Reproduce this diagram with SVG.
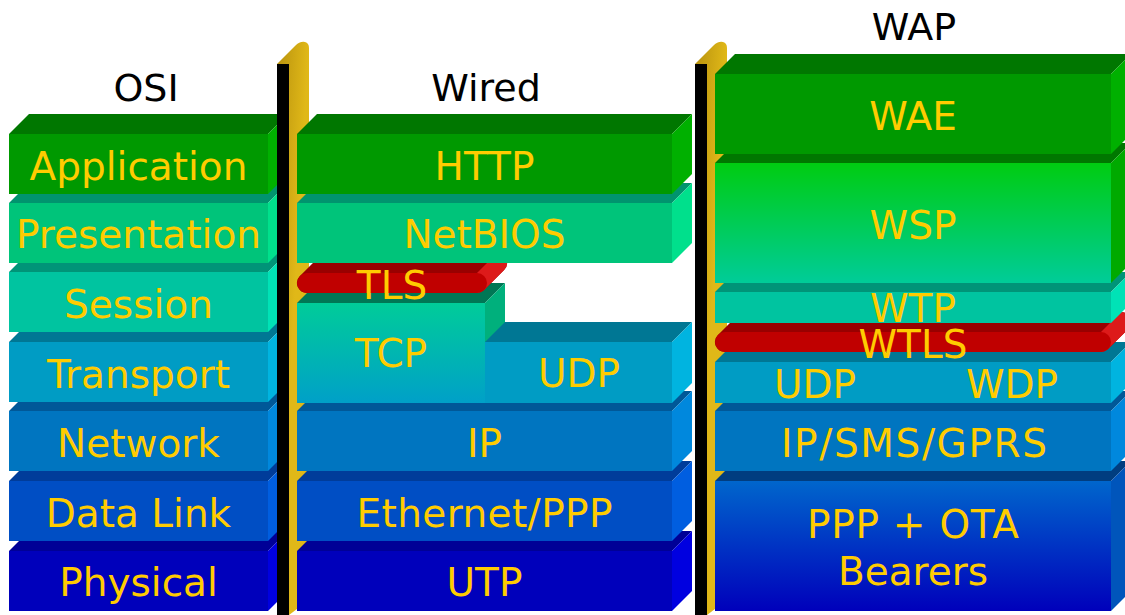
<svg xmlns="http://www.w3.org/2000/svg" width="1125" height="615" viewBox="0 0 1125 615">
<defs>
<linearGradient id="gTcp" x1="0" y1="0" x2="0" y2="1"><stop offset="0" stop-color="#00cc99"/><stop offset="1" stop-color="#00a0c8"/></linearGradient>
<linearGradient id="gWsp" x1="0" y1="0" x2="0" y2="1"><stop offset="0" stop-color="#00cc11"/><stop offset="1" stop-color="#00cc99"/></linearGradient>
<linearGradient id="gPpp" x1="0" y1="0" x2="0" y2="1"><stop offset="0" stop-color="#0066cc"/><stop offset="1" stop-color="#0000bb"/></linearGradient>
<linearGradient id="gGold" x1="0" y1="0" x2="1" y2="1"><stop offset="0" stop-color="#b8920e"/><stop offset="0.5" stop-color="#e0b818"/><stop offset="1" stop-color="#e0b818"/></linearGradient>
</defs>
<style>
text{font-family:"DejaVu Sans","Liberation Sans",sans-serif;text-anchor:middle}
.t{font-size:39px;fill:#ffcc00}
.h{font-size:38px;fill:#000000}
.f1{fill:#009900}.p1{fill:#007700}.s1{fill:#00b000}
.f2{fill:#00c47a}.p2{fill:#00946e}.s2{fill:#00e08c}
.f3{fill:#00c4a0}.p3{fill:#009478}.s3{fill:#00e2b6}
.f4{fill:#009cc4}.p4{fill:#007794}.s4{fill:#00b4e0}
.f5{fill:#0075c0}.p5{fill:#005898}.s5{fill:#0088dd}
.f6{fill:#004ec4}.p6{fill:#003c9a}.s6{fill:#005ee0}
.f7{fill:#0000bb}.p7{fill:#000096}.s7{fill:#0000e0}
.pole{fill:#000000}
.gold{fill:url(#gGold)}
.rf{fill:#c00000}.rt{fill:#990000}.rc{fill:#dd1a1a}
</style>

<g id="osi">
<text class="h" x="146" y="101">OSI</text>
<g id="osi-physical"><polygon class="p7" points="9,551 29,531 288,531 268,551"/><polygon class="s7" points="268,551 288,531 288,591 268,611"/><rect class="f7" x="9" y="551" width="259" height="60"/><text class="t" x="138.5" y="596">Physical</text></g>
<g id="osi-datalink"><polygon class="p6" points="9,481 29,461 288,461 268,481"/><polygon class="s6" points="268,481 288,461 288,521 268,541"/><rect class="f6" x="9" y="481" width="259" height="60"/><text class="t" x="138.5" y="527">Data Link</text></g>
<g id="osi-network"><polygon class="p5" points="9,411 29,391 288,391 268,411"/><polygon class="s5" points="268,411 288,391 288,451 268,471"/><rect class="f5" x="9" y="411" width="259" height="60"/><text class="t" x="138.5" y="457">Network</text></g>
<g id="osi-transport"><polygon class="p4" points="9,342 29,322 288,322 268,342"/><polygon class="s4" points="268,342 288,322 288,382 268,402"/><rect class="f4" x="9" y="342" width="259" height="60"/><text class="t" x="138.5" y="388">Transport</text></g>
<g id="osi-session"><polygon class="p3" points="9,272 29,252 288,252 268,272"/><polygon class="s3" points="268,272 288,252 288,312 268,332"/><rect class="f3" x="9" y="272" width="259" height="60"/><text class="t" x="138.5" y="318">Session</text></g>
<g id="osi-presentation"><polygon class="p2" points="9,203 29,183 288,183 268,203"/><polygon class="s2" points="268,203 288,183 288,243 268,263"/><rect class="f2" x="9" y="203" width="259" height="60"/><text class="t" x="138.5" y="248">Presentation</text></g>
<g id="osi-application"><polygon class="p1" points="9,134 29,114 288,114 268,134"/><polygon class="s1" points="268,134 288,114 288,174 268,194"/><rect class="f1" x="9" y="134" width="259" height="60"/><text class="t" x="138.5" y="180">Application</text></g>
</g>

<g id="divider-wired">
<path class="gold" d="M277,64 L295,46 Q300,41 305,42 Q309,43 309,48 L309,600 L289,615 L289,64 Z"/>
<rect class="pole" x="277" y="64" width="12" height="551"/>
</g>

<g id="wired">
<text class="h" x="486" y="101">Wired</text>
<g id="wired-utp"><polygon class="p7" points="297,551 317,531 692,531 672,551"/><polygon class="s7" points="672,551 692,531 692,591 672,611"/><rect class="f7" x="297" y="551" width="375" height="60"/><text class="t" x="484.5" y="596">UTP</text></g>
<g id="wired-ethernet"><polygon class="p6" points="297,481 317,461 692,461 672,481"/><polygon class="s6" points="672,481 692,461 692,521 672,541"/><rect class="f6" x="297" y="481" width="375" height="60"/><text class="t" x="484.5" y="527" textLength="256" lengthAdjust="spacing">Ethernet/PPP</text></g>
<g id="wired-ip"><polygon class="p5" points="297,411 317,391 692,391 672,411"/><polygon class="s5" points="672,411 692,391 692,451 672,471"/><rect class="f5" x="297" y="411" width="375" height="60"/><text class="t" x="484.5" y="457">IP</text></g>
<g id="wired-tcp"><polygon fill="#007755" points="297,303 317,283 505,283 485,303"/><polygon fill="#00b07c" points="485,303 505,283 505,383 485,403"/><rect fill="url(#gTcp)" x="297" y="303" width="188" height="100"/><text class="t" x="391" y="367">TCP</text></g>
<g id="wired-udp"><polygon class="p4" points="485,342 505,322 692,322 672,342"/><polygon class="s4" points="672,342 692,322 692,383 672,403"/><rect class="f4" x="485" y="342" width="187" height="61"/><text class="t" x="579" y="387">UDP</text></g>
<g id="wired-tls">
<path class="rt" d="M307,293 L477,293 A10,10 0 0 0 484.07,290.07 L504.07,270.07 A10,10 0 0 0 497,253 L327,253 A10,10 0 0 0 319.93,255.930 L299.93,275.93 A10,10 0 0 0 307,293 Z"/>
<path class="rc" d="M477,273 L497,253 A10,10 0 0 1 504.07,270.07 L484.07,290.07 A10,10 0 0 1 477,293 Z"/>
<rect class="rf" x="297" y="273" width="190" height="20" rx="10" ry="10"/>
<text class="t" x="392" y="299">TLS</text>
</g>
<g id="wired-netbios"><polygon class="p2" points="297,203 317,183 692,183 672,203"/><polygon class="s2" points="672,203 692,183 692,243 672,263"/><rect class="f2" x="297" y="203" width="375" height="60"/><text class="t" x="484.5" y="248">NetBIOS</text></g>
<g id="wired-http"><polygon class="p1" points="297,134 317,114 692,114 672,134"/><polygon class="s1" points="672,134 692,114 692,174 672,194"/><rect class="f1" x="297" y="134" width="375" height="60"/><text class="t" x="484.5" y="180">HTTP</text></g>
</g>

<g id="divider-wap">
<path class="gold" d="M695,64 L713,46 Q718,41 723,42 Q727,43 727,48 L727,600 L707,615 L707,64 Z"/>
<rect class="pole" x="695" y="64" width="12" height="551"/>
</g>

<g id="wap">
<text class="h" x="914" y="40">WAP</text>
<g id="wap-ppp"><polygon fill="#003d80" points="715,481 735,461 1131,461 1111,481"/><polygon fill="#0055bb" points="1111,481 1131,461 1131,591 1111,611"/><rect fill="url(#gPpp)" x="715" y="481" width="396" height="130"/><text class="t" x="913" y="538" textLength="212" lengthAdjust="spacing">PPP + OTA</text><text class="t" x="913" y="585">Bearers</text></g>
<g id="wap-ip"><polygon class="p5" points="715,411 735,391 1131,391 1111,411"/><polygon class="s5" points="1111,411 1131,391 1131,451 1111,471"/><rect class="f5" x="715" y="411" width="396" height="60"/><text class="t" x="914" y="457" textLength="266" lengthAdjust="spacing">IP/SMS/GPRS</text></g>
<g id="wap-udp-wdp"><polygon class="p4" points="715,362 735,342 1131,342 1111,362"/><polygon class="s4" points="1111,362 1131,342 1131,383 1111,403"/><rect class="f4" x="715" y="362" width="396" height="41"/><text class="t" x="815" y="398">UDP</text><text class="t" x="1012" y="398">WDP</text></g>
<g id="wap-wtls-bar">
<path class="rt" d="M725,352 L1101,352 A10,10 0 0 0 1108.07,349.07 L1128.07,329.07 A10,10 0 0 0 1121,312 L745,312 A10,10 0 0 0 737.93,314.93 L717.93,334.93 A10,10 0 0 0 725,352 Z"/>
<path class="rc" d="M1101,332 L1121,312 A10,10 0 0 1 1128.07,329.07 L1108.07,349.07 A10,10 0 0 1 1101,352 Z"/>
<rect class="rf" x="715" y="332" width="396" height="20" rx="10" ry="10"/>
</g>
<g id="wap-wtp"><polygon class="p3" points="715,292 735,272 1131,272 1111,292"/><polygon class="s3" points="1111,292 1131,272 1131,303 1111,323"/><rect class="f3" x="715" y="292" width="396" height="31"/><text class="t" x="913" y="322">WTP</text></g>
<g id="wap-wsp"><polygon class="p1" points="715,163 735,143 1131,143 1111,163"/><polygon fill="#00aa00" points="1111,163 1131,143 1131,263 1111,283"/><rect fill="url(#gWsp)" x="715" y="163" width="396" height="120"/><text class="t" x="913" y="239">WSP</text></g>
<g id="wap-wae"><polygon class="p1" points="715,74 735,54 1131,54 1111,74"/><polygon class="s1" points="1111,74 1131,54 1131,134 1111,154"/><rect class="f1" x="715" y="74" width="396" height="80"/><text class="t" x="913" y="130">WAE</text></g>
<g id="wap-wtls-label"><text class="t" x="913" y="358">WTLS</text></g>
</g>
</svg>
